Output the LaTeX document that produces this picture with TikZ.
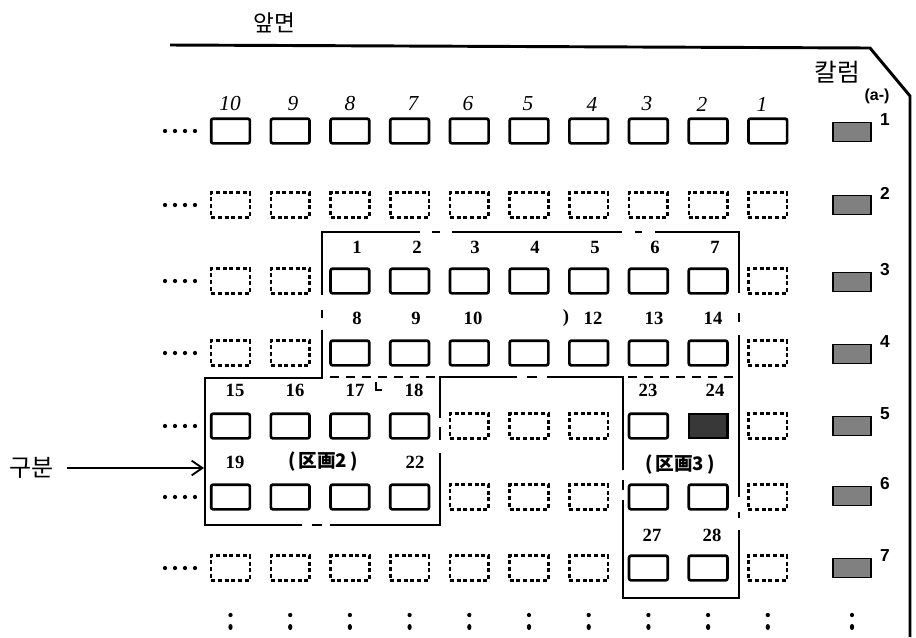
\documentclass[tikz,border=0pt]{standalone}
\usepackage{fontspec}
\setmainfont{Liberation Serif}
\newfontfamily\krfont{Noto Sans CJK KR}
\newfontfamily\jpfont{Noto Sans CJK JP}
\newfontfamily\tyfont{Liberation Sans}
\usetikzlibrary{arrows.meta}
\begin{document}
\begin{tikzpicture}[x=0.75pt,y=-0.75pt,
  sbox/.style={draw, line width=2pt, rounded corners=1.5pt, minimum width=29pt, minimum height=18.5pt, inner sep=0pt},
  dbox/.style={draw, line width=1.9pt, dash pattern=on 3pt off 2pt, minimum width=29pt, minimum height=18.5pt, inner sep=0pt},
  gbox/.style={draw, fill=black!50, line width=1.4pt, minimum width=28.5pt, minimum height=14.3pt, inner sep=0pt},
  darkbox/.style={draw, fill=black!78, line width=1.6pt, minimum width=29pt, minimum height=18.5pt, inner sep=0pt},
  hand/.style={font=\itshape\fontsize{16}{16}\selectfont, inner sep=0pt},
  lab/.style={font=\bfseries\fontsize{14}{14}\selectfont, inner sep=0pt},
  rowlab/.style={font=\tyfont\bfseries\fontsize{13}{13}\selectfont, inner sep=0pt},
  cjklab/.style={font=\jpfont\bfseries\fontsize{14}{14}\selectfont, inner sep=0pt},
  krlab/.style={font=\krfont, inner sep=0pt},
  region/.style={line width=1.5pt},
  dotrow/.style={line width=3.2pt, dash pattern=on 0pt off 7.5pt, line cap=round},
  frame/.style={line width=2.2pt}
]
\useasboundingbox (0,0) rectangle (916,637);

% outer frame
\draw[frame] (170,45) -- (870,48) -- (910,96) -- (910,637);

% titles
\node[krlab, font=\krfont\fontsize{17}{17}\selectfont] (front) at (274,23) {앞면};
\node[krlab, font=\krfont\fontsize{18.5}{18.5}\selectfont] (column) at (837,72) {칼럼};
\node[rowlab, font=\tyfont\bfseries\fontsize{12}{12}\selectfont] (aminus) at (877,96) {(a-)};

% handwritten column numbers
\foreach \c/\x in {10/230,9/293,8/350,7/413,6/468,5/528,4/592,3/647,2/702,1/762}
  \node[hand] (h\c) at (\x,104) {\c};

% left dot rows
\foreach \y in {131,205,281,353,426,497,568}
  \draw[dotrow] (165,\y) -- (198,\y);

% row 1: all solid
\foreach \c in {10,...,1} {
  \pgfmathsetmacro\x{230.5+(10-\c)*59.7}
  \node[sbox] (b1c\c) at (\x,131) {};
}
% row 2: all dashed
\foreach \c in {10,...,1} {
  \pgfmathsetmacro\x{230.5+(10-\c)*59.7}
  \node[dbox] (b2c\c) at (\x,205) {};
}
% rows 3 and 4
\foreach \r/\y in {3/281,4/353} {
  \foreach \c in {10,9,1} {
    \pgfmathsetmacro\x{230.5+(10-\c)*59.7}
    \node[dbox] (b\r c\c) at (\x,\y) {};
  }
  \foreach \c in {8,...,2} {
    \pgfmathsetmacro\x{230.5+(10-\c)*59.7}
    \node[sbox] (b\r c\c) at (\x,\y) {};
  }
}
% row 5
\foreach \c in {10,9,8,7,3} {
  \pgfmathsetmacro\x{230.5+(10-\c)*59.7}
  \node[sbox] (b5c\c) at (\x,426) {};
}
\foreach \c in {6,5,4,1} {
  \pgfmathsetmacro\x{230.5+(10-\c)*59.7}
  \node[dbox] (b5c\c) at (\x,426) {};
}
\node[darkbox] (b5c2) at (708.1,426) {};
% row 6
\foreach \c in {10,9,8,7,3,2} {
  \pgfmathsetmacro\x{230.5+(10-\c)*59.7}
  \node[sbox] (b6c\c) at (\x,497) {};
}
\foreach \c in {6,5,4,1} {
  \pgfmathsetmacro\x{230.5+(10-\c)*59.7}
  \node[dbox] (b6c\c) at (\x,497) {};
}
% row 7
\foreach \c in {10,...,4,1} {
  \pgfmathsetmacro\x{230.5+(10-\c)*59.7}
  \node[dbox] (b7c\c) at (\x,568) {};
}
\foreach \c in {3,2} {
  \pgfmathsetmacro\x{230.5+(10-\c)*59.7}
  \node[sbox] (b7c\c) at (\x,568) {};
}

% shaded column and row numbers
\foreach \r/\y in {1/132,2/205,3/282,4/354,5/426,6/496,7/568} {
  \node[gbox] (g\r) at (852,\y) {};
  \node[rowlab] (rl\r) at (885,\y-12) {\r};
}

% bottom vertical ellipses
\foreach \x in {230.5,290.2,349.9,409.6,469.3,529,588.7,648.4,708.1,767.8,852} {
  \fill (\x,615) circle (1.6pt);
  \fill (\x,627) ellipse (1.6pt and 2.3pt);
}

% region 1 outline
\draw[region] (322,295) -- (322,232) -- (420,232);
\draw[region] (432,232) -- (440,232);
\draw[region] (452,232) -- (622,232);
\draw[region] (635,232) -- (642,232);
\draw[region] (655,232) -- (739,232) -- (739,293);
\draw[region] (322,310) -- (322,318);
\draw[region] (739,313) -- (739,322);
\draw[region] (739,335) -- (739,497);
\draw[region] (739,512) -- (739,518);
% region 2 outline
\draw[region] (322,330) -- (322,378) -- (205,378) -- (205,525) -- (302,525);
\draw[region] (312,525) -- (322,525);
\draw[region] (330,525) -- (440,525) -- (440,453);
\draw[region] (440,427) -- (440,440);
\draw[region] (440,418) -- (440,377) -- (517,377);
\draw[region] (527,377) -- (537,377);
\draw[region] (547,377) -- (623,377) -- (623,470);
% dashed internal boundaries
\draw[region, dash pattern=on 7pt off 5pt] (330,377) -- (438,377);
\draw[region, dash pattern=on 7pt off 5pt] (628,377) -- (739,377);
% region 3 outline
\draw[region] (623,480) -- (623,490);
\draw[region] (623,500) -- (623,598) -- (739,598) -- (739,530);
% small mark between 17 and 18
\draw[line width=1.2pt] (376,382) -- (376,390) -- (382,390);

% box numbers
\foreach \t/\x in {1/357,2/417,3/475,4/535,5/595,6/655,7/715}
  \node[lab] (n\t) at (\x,247) {\t};
\foreach \t/\x in {8/357,9/416,10/473,12/593,13/654,14/713}
  \node[lab] (n\t) at (\x,318) {\t};
\node[lab] (paren) at (566,318) {)};
\foreach \t/\x in {15/235,16/295,17/355,18/414,23/648,24/715}
  \node[lab] (n\t) at (\x,390) {\t};
\foreach \t/\x in {19/235,22/415}
  \node[lab] (n\t) at (\x,462) {\t};
\foreach \t/\x in {27/652,28/712}
  \node[lab] (n\t) at (\x,535) {\t};
\node[cjklab] (sec2) at (323,462) {(\,区画2\,)};
\node[cjklab] (sec3) at (680,465) {(\,区画3\,)};

% division label and arrow
\node[krlab, font=\krfont\fontsize{18}{18}\selectfont] (gubun) at (32,468) {구분};
\coordinate (r2w) at (204,468);
\draw[line width=1.4pt, -{Straight Barb[length=8pt, width=11pt, line width=1.4pt]}] (67,468) -- (r2w);
\end{tikzpicture}
\end{document}
